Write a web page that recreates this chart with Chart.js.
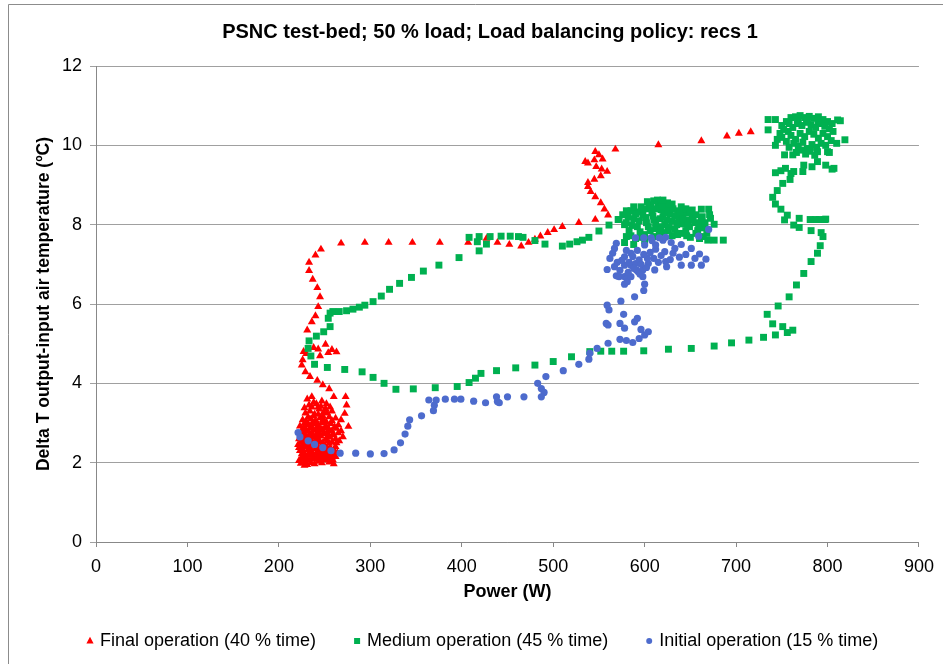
<!DOCTYPE html>
<html><head><meta charset="utf-8">
<script src="https://cdn.jsdelivr.net/npm/chart.js@4.4.1/dist/chart.umd.min.js"></script>
<style>html,body{margin:0;padding:0;background:#fff;overflow:hidden}canvas{display:block}</style>
</head><body>
<canvas id="c" width="943" height="664"></canvas>
<script>
const chartTitle = 'PSNC test-bed; 50 % load; Load balancing policy: recs 1';
const xTitle = 'Power (W)';
const yTitle = 'Delta T output-input air temperature (\u00baC)';
const seriesNames = ['Final operation (40 % time)', 'Medium operation (45 % time)', 'Initial operation (15 % time)'];
const xTicks = [0,100,200,300,400,500,600,700,800,900];
const yTicks = [0,2,4,6,8,10,12];

const finalPoints = [
[716,10.34],[703,10.30],[690,10.23],[662,10.11],[615,10.01],[568,9.90],[546,9.84],[550,9.76],[554,9.65],[545,9.63],
[535,9.59],[538,9.55],[547,9.46],[553,9.40],[559,9.34],[552,9.23],[545,9.14],[538,9.06],[538,8.96],[541,8.83],
[546,8.70],[552,8.55],[556,8.39],[560,8.24],[546,8.13],[528,8.05],[510,7.95],[501,7.87],[494,7.80],[486,7.71],
[480,7.63],[473,7.55],[465,7.46],[452,7.50],[439,7.55],[427,7.65],[407,7.55],[376,7.55],[346,7.55],[320,7.55],
[294,7.55],[268,7.53],[246,7.38],[240,7.23],[233,7.05],[233,6.84],[237,6.62],[242,6.41],[245,6.18],[243,5.93],
[240,5.70],[236,5.55],[231,5.34],[227,4.80],[225,4.46],[229,4.29],[234,4.17],[242,4.07],[248,3.96],[255,3.86],
[260,3.66],[243,4.86],[251,4.98],[254,4.77],[263,4.79],[245,4.69],[226,4.59],[230,4.75],[238,4.90],[258,4.85],
[273,3.66],[274,3.45],[272,3.24],[268,3.08],[276,2.91],[270,2.65],[263,2.50],[261,2.28],[259,2.07],
[222,2.05],[224,1.98],[228,2.02],[231,1.95],[235,2.00],[239,1.97],[243,2.03],[247,1.99],[251,2.06],[255,2.01],
[226,2.15],[230,2.12],[234,2.18],[238,2.10],[242,2.16],[246,2.13],[250,2.20],[254,2.17],[258,2.12],
[223,2.30],[227,2.26],[232,2.33],[236,2.28],[240,2.35],[244,2.31],[249,2.27],[253,2.36],[257,2.30],
[221,2.45],[225,2.42],[229,2.48],[233,2.44],[237,2.50],[241,2.46],[245,2.52],[250,2.43],[255,2.49],
[222,2.60],[226,2.57],[230,2.63],[234,2.58],[238,2.65],[242,2.61],[246,2.67],[251,2.59],[256,2.64],[260,2.70],
[224,2.76],[228,2.72],[232,2.79],[236,2.74],[240,2.81],[244,2.77],[248,2.83],[253,2.75],[258,2.80],[263,2.86],
[223,2.92],[227,2.88],[231,2.95],[235,2.90],[239,2.97],[243,2.93],[247,3.00],[252,2.91],[257,2.98],[265,2.95],
[226,3.08],[230,3.04],[235,3.10],[240,3.06],[245,3.13],[250,3.05],[255,3.15],[229,3.25],[234,3.30],[239,3.22],
[244,3.35],[249,3.28],[233,3.45],[238,3.52],[243,3.40],[247,3.55],[231,3.60],[236,3.66],[252,3.48],[228,1.93],
[260,1.97],[264,2.25],[262,2.40],[266,2.55],
[224,2.10],[229,2.08],[233,2.06],[237,2.14],[241,2.09],[245,2.06],[249,2.11],[253,2.08],[257,2.05],[260,2.18],
[225,2.22],[229,2.20],[233,2.24],[237,2.21],[241,2.25],[245,2.22],[249,2.19],[252,2.26],[256,2.22],[262,2.15],
[222,2.38],[226,2.35],[230,2.40],[234,2.37],[238,2.42],[243,2.38],[247,2.41],[251,2.35],[256,2.39],[260,2.33],
[224,2.52],[228,2.54],[232,2.51],[236,2.56],[240,2.53],[244,2.57],[248,2.50],[253,2.54],[258,2.52],[262,2.60],
[225,2.68],[229,2.66],[233,2.70],[237,2.68],[241,2.72],[245,2.69],[249,2.73],[254,2.67],[259,2.71],[265,2.75],
[226,2.84],[230,2.82],[234,2.86],[238,2.83],[242,2.87],[246,2.85],[250,2.88],[255,2.84],[261,2.90],[268,2.80],
[228,3.00],[232,2.98],[237,3.02],[242,3.00],[248,3.08],[252,3.02],[258,3.06],[262,3.12],[232,3.15],[238,3.18],
[243,3.22],[248,3.18],[253,3.25],[258,3.30],[228,3.38],[236,3.40],[241,3.48],[246,3.42],[251,3.36],[256,3.40]
];

const mediumPoints = [
[272,4.35],[253,4.40],[239,4.48],[235,4.69],[232,4.88],[233,5.07],[241,5.19],[249,5.30],[256,5.43],[254,5.64],
[256,5.77],[259,5.81],[266,5.81],[274,5.83],[281,5.87],[288,5.92],[294,5.97],[303,6.06],[312,6.20],[321,6.37],
[332,6.52],[345,6.67],[358,6.83],[375,6.98],[397,7.17],[408,7.68],[419,7.34],[419,7.70],[417,7.57],[427,7.51],
[431,7.70],[443,7.71],[453,7.71],[462,7.70],[467,7.68],[480,7.60],[491,7.51],[510,7.46],[518,7.51],[526,7.57],
[532,7.61],[539,7.68],[550,7.84],[561,7.99],[571,8.13],
[291,4.29],[303,4.15],[315,4.00],[328,3.85],[347,3.86],[371,3.89],[395,3.92],[408,4.02],[415,4.13],[421,4.25],
[438,4.32],[459,4.39],[480,4.46],[500,4.55],[520,4.67],[540,4.80],[552,4.81],[564,4.81],[577,4.81],[599,4.82],
[626,4.86],[651,4.88],[676,4.94],[695,5.02],[714,5.09],[730,5.16],[743,5.22],[756,5.28],[762,5.34],[751,5.43],
[740,5.50],[734,5.74],[746,5.95],[758,6.18],[766,6.48],[774,6.77],[782,7.07],[789,7.28],[792,7.47],[795,7.70],
[793,7.80],[782,7.85],[791,8.13],[797,8.13],[787,8.13],[781,8.13],[769,7.93],[763,7.99],[769,8.16],[753,8.12],
[756,8.24],[749,8.39],[743,8.52],[740,8.69],[745,8.86],[751,9.04],[759,9.14],[760,9.29],[749,9.36],[743,9.31],
[754,9.42],[763,9.34],[773,9.34],[774,9.50],[783,9.46],[798,9.50],[807,9.42],[789,9.59],[805,9.40],[798,8.14],
[735,10.65],[735,10.39],[743,10.65],[743,10.00],[753,9.76],[762,9.76],[811,10.64],[810,10.05],[800,9.84],[789,9.84],
[814,10.62],[819,10.14],[802,9.82],
[750,10.50],[755,10.60],[760,10.70],[765,10.72],[770,10.75],[775,10.70],[780,10.73],[785,10.68],[790,10.72],[795,10.65],
[800,10.60],[805,10.55],[748,10.30],[752,10.40],[757,10.35],[762,10.45],[767,10.55],[772,10.50],[777,10.58],[782,10.52],
[787,10.45],[792,10.55],[797,10.48],[802,10.42],[806,10.35],[745,10.15],[750,10.20],[755,10.10],[760,10.25],[765,10.15],
[770,10.30],[775,10.22],[780,10.35],[785,10.28],[790,10.18],[795,10.30],[800,10.22],[804,10.12],[758,9.95],[763,10.05],
[768,9.98],[773,10.08],[778,9.92],[783,10.02],[788,9.95],[793,10.05],[798,10.00],[766,9.82],[771,9.88],[776,9.78],
[781,9.85],[786,9.75],[778,10.62],[768,10.66],[790,10.62],[758,10.55],
[572,8.13],[576,8.25],[580,8.05],[585,8.35],[588,8.15],[592,7.95],[596,8.45],[598,8.25],[602,8.05],[605,8.50],
[608,8.30],[610,8.12],[612,7.90],[615,8.55],[618,8.38],[620,8.20],[622,8.00],[625,8.45],[628,8.28],[630,8.10],
[633,7.88],[636,8.35],[638,8.18],[641,8.02],[644,8.30],[646,8.12],[649,7.95],[652,8.22],[655,8.05],[658,7.85],
[662,8.10],[665,7.92],[668,7.78],[600,7.75],[610,7.70],[620,7.80],[630,7.72],[640,7.78],[650,7.68],[660,7.65],
[583,7.85],[590,7.65],[578,7.55],[588,7.50],[600,7.60],[652,8.37],[662,8.39],[670,8.39],[672,8.16],[676,8.01],
[669,7.61],[676,7.61],[686,7.61],[614,8.62],[605,8.40],[625,8.55],[592,8.32],[640,8.45],[618,7.95],[635,8.00],
[645,7.85],[580,7.70],[595,7.82],
[578,8.00],[582,8.20],[586,7.98],[590,8.28],[594,8.10],[598,8.40],[601,8.18],[604,7.95],[607,8.45],[609,8.22],
[612,8.05],[614,8.40],[617,8.15],[619,8.48],[621,8.30],[624,8.12],[626,8.35],[627,7.95],[631,8.40],[633,8.22],
[636,8.05],[639,8.30],[642,8.15],[645,8.40],[647,8.00],[650,8.30],[653,8.12],[656,8.25],[659,7.98],[663,8.20],
[666,8.05],[603,8.58],[610,8.60],[620,8.62],[630,8.52],[585,7.72],[596,7.68],[606,7.85],[616,7.78],[626,7.85],
[636,7.75],[646,7.72],[656,7.78],[664,7.70],[671,8.25],[588,8.45],[580,8.35]
];

const initialPoints = [
[221,2.76],[223,2.65],[232,2.55],[239,2.46],[248,2.38],[257,2.30],[267,2.24],[284,2.24],[300,2.22],[315,2.23],
[326,2.32],[333,2.50],[338,2.72],[341,2.92],[343,3.08],[356,3.18],[369,3.31],[370,3.45],[364,3.58],[372,3.58],
[382,3.60],[392,3.60],[399,3.60],[413,3.55],[426,3.51],[438,3.66],[439,3.54],[441,3.51],[450,3.66],[468,3.66],
[483,4.00],[487,3.87],[490,3.77],[487,3.66],[492,4.17],[511,4.32],[528,4.48],[539,4.61],[540,4.76],[548,4.88],
[560,5.01],[573,5.11],[580,5.08],[587,5.03],[594,5.13],[600,5.22],[604,5.30],[596,5.36],[589,5.55],[592,5.64],
[578,5.39],[573,5.51],[558,5.51],[560,5.47],[577,5.74],[561,5.85],[559,5.97],[574,6.07],[589,6.18],[599,6.34],
[600,6.50],[598,6.69],[593,6.81],
[611,6.86],[623,7.07],[624,6.94],[638,7.18],[640,6.98],[651,6.98],[662,6.98],[667,7.13],[660,7.26],[651,7.40],
[631,7.28],[622,7.32],[612,7.38],[612,7.49],[620,7.61],[623,7.68],[659,7.71],[670,7.88],[590,7.67],[599,7.67],
[607,7.67],[616,7.67],[600,7.49],[569,7.53],[567,7.40],[565,7.28],[578,7.19],[585,7.28],[585,6.98],[590,7.02],
[598,6.86],[604,7.02],[603,7.15],[594,7.11],[578,6.98],[559,6.87],[567,6.94],[569,6.71],[572,6.69],[578,6.69],
[581,6.65],[578,6.50],[581,6.56],[585,6.69],[591,6.86],
[575,7.10],[580,7.35],[583,7.05],[587,7.20],[592,7.35],[596,7.00],[599,7.25],[606,7.30],[610,7.15],[615,7.05],
[618,7.22],[628,7.12],[633,7.40],[645,7.25],[655,7.15],[573,6.85],[582,6.80],[588,6.90],[595,6.75],[602,6.92],
[570,7.05],[562,7.15],[608,7.60],[629,7.55],[640,7.50]
];

const FONT = '"Liberation Sans", Arial, sans-serif';
const toXY = pts => pts.map(p => ({x: p[0], y: p[1]}));

function drawMarker(ctx, style, x, y, color) {
  ctx.fillStyle = color;
  ctx.beginPath();
  if (style === 'triangle') {
    ctx.moveTo(x, y - 4.2); ctx.lineTo(x + 3.6, y + 2.6); ctx.lineTo(x - 3.6, y + 2.6); ctx.closePath();
  } else if (style === 'rect') {
    ctx.rect(x - 3, y - 3, 6, 6);
  } else {
    ctx.arc(x, y, 3, 0, Math.PI * 2);
  }
  ctx.fill();
}

const decorPlugin = {
  id: 'decor',
  beforeDraw(chart) {
    const ctx = chart.ctx;
    ctx.save();
    ctx.fillStyle = '#fff';
    ctx.fillRect(0, 0, chart.width, chart.height);
    ctx.strokeStyle = '#8c8c8c';
    ctx.lineWidth = 1;
    ctx.beginPath();
    ctx.moveTo(8.5, chart.height); ctx.lineTo(8.5, 4.5); ctx.lineTo(chart.width, 4.5);
    ctx.stroke();
    ctx.restore();
  },
  afterDraw(chart) {
    const ctx = chart.ctx;
    ctx.save();
    ctx.fillStyle = '#000';
    ctx.textBaseline = 'middle';
    ctx.textAlign = 'center';
    ctx.font = 'bold 20px ' + FONT;
    ctx.fillText(chartTitle, 490, 32);
    ctx.textAlign = 'left';
    ctx.font = '18px ' + FONT;
    let cx = 90; const cy = 641;
    chart.data.datasets.forEach(ds => {
      drawMarker(ctx, ds.pointStyle, cx, cy, ds.backgroundColor);
      const tx = cx + 10;
      ctx.fillStyle = '#000';
      ctx.fillText(ds.label, tx, cy);
      cx = tx + ctx.measureText(ds.label).width + 41;
    });
    ctx.restore();
  }
};

new Chart(document.getElementById('c'), {
  type: 'scatter',
  data: {
    datasets: [
      {label: seriesNames[0], data: toXY(finalPoints), pointStyle: 'triangle', pointRadius: 4.6, backgroundColor: '#ff0000', borderColor: '#ff0000', pointBorderWidth: 0, order: 3},
      {label: seriesNames[1], data: toXY(mediumPoints), pointStyle: 'rect', pointRadius: 4.9, backgroundColor: '#00b050', borderColor: '#00b050', pointBorderWidth: 0, order: 2},
      {label: seriesNames[2], data: toXY(initialPoints), pointStyle: 'circle', pointRadius: 3.6, backgroundColor: '#4d6bcd', borderColor: '#4d6bcd', pointBorderWidth: 0, order: 1}
    ]
  },
  options: {
    responsive: false,
    animation: false,
    devicePixelRatio: 1,
    layout: {padding: {left: 10, right: 23, top: 66, bottom: 60}},
    plugins: {legend: {display: false}, title: {display: false}, tooltip: {enabled: false}},
    scales: {
      x: {
        type: 'linear',
        min: xTicks[0], max: xTicks[xTicks.length - 1],
        afterBuildTicks: s => { s.ticks = xTicks.map(v => ({value: v})); },
        afterFit: s => { s.height = 62; },
        grid: {drawOnChartArea: false, drawTicks: true, tickLength: 5, color: '#888'},
        border: {color: '#888', width: 1},
        ticks: {color: '#000', font: {size: 18, family: FONT}, padding: 9, maxRotation: 0},
        title: {display: true, text: xTitle, color: '#000', font: {size: 18, weight: 'bold', family: FONT}, padding: {top: 0, bottom: 1}}
      },
      y: {
        type: 'linear',
        min: yTicks[0], max: yTicks[yTicks.length - 1],
        afterBuildTicks: s => { s.ticks = yTicks.map(v => ({value: v})); },
        afterFit: s => { s.width = 86; },
        grid: {color: '#a0a0a0', drawTicks: true, tickLength: 6},
        border: {color: '#888', width: 1},
        ticks: {color: '#000', font: {size: 18, family: FONT}, padding: 8},
        title: {display: true, text: yTitle, color: '#000', font: {size: 17.5, weight: 'bold', family: FONT}, padding: {top: 24, bottom: 0}}
      }
    }
  },
  plugins: [decorPlugin]
});
</script>
</body></html>
